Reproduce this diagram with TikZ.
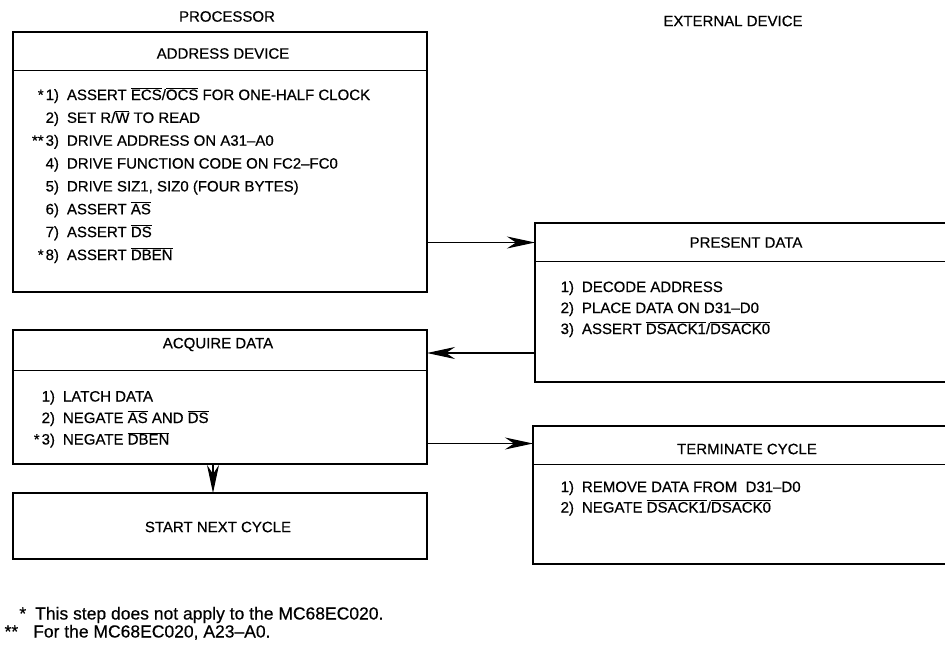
\documentclass[tikz,border=0pt]{standalone}
\usepackage{fontspec}
\setmainfont{Liberation Sans}[FakeBold=0.5]
\usetikzlibrary{arrows.meta}
\newcommand\ovl[1]{$\overline{\hbox{#1}}$}
\newcommand\num[1]{\llap{#1\hspace{8pt}}}
\begin{document}
\begin{tikzpicture}[x=1pt,y=-1pt,
  box/.style={draw, line width=1.6pt, inner sep=0pt, outer sep=0pt, anchor=north west},
  sepline/.style={line width=0.9pt},
  ttl/.style={font=\fontsize{15}{18}\selectfont, inner sep=0pt},
  items/.style={font=\fontsize{15}{#1}\selectfont, inner sep=0pt, outer sep=0pt, anchor=base west},
  conn/.style={line width=1.1pt, -{Stealth[length=28pt,width=12pt,inset=9pt]}},
  head/.style={font=\fontsize{15}{18}\selectfont, inner sep=0pt},
  note/.style={font=\fontsize{17.5}{20}\selectfont, inner sep=0pt, anchor=base west}]
\useasboundingbox (0,0) rectangle (945,645);
\clip (0,0) rectangle (945,645);

% column headings
\node[head] (proc) at (227,16.5) {PROCESSOR};
\node[head] (ext) at (733,21) {EXTERNAL DEVICE};

% ADDRESS DEVICE
\node[box, minimum width=414pt, minimum height=260pt] (addr) at (13,32) {};
\draw[sepline] (addr.west |- 0,70) -- (addr.east |- 0,70);
\node[ttl] (addrt) at (223,53.5) {ADDRESS DEVICE};
\node[items=22.86pt] (addri) at (67,100) {\begin{tabular}[t]{@{}l@{}}
\num{*\kern2pt1)}ASSERT \ovl{ECS}/\ovl{OCS} FOR ONE-HALF CLOCK\\
\num{2)}SET R/\ovl{W} TO READ\\
\num{**\kern2pt3)}DRIVE ADDRESS ON A31--A0\\
\num{4)}DRIVE FUNCTION CODE ON FC2--FC0\\
\num{5)}DRIVE SIZ1, SIZ0 (FOUR BYTES)\\
\num{6)}ASSERT \ovl{AS}\\
\num{7)}ASSERT \ovl{DS}\\
\num{*\kern2pt8)}ASSERT \ovl{DBEN}
\end{tabular}};

% PRESENT DATA
\node[box, minimum width=420pt, minimum height=159pt] (pres) at (535,223) {};
\draw[sepline] (pres.west |- 0,261) -- (pres.east |- 0,261);
\node[ttl] (prest) at (746,242.5) {PRESENT DATA};
\node[items=21pt] (presi) at (582,292) {\begin{tabular}[t]{@{}l@{}}
\num{1)}DECODE ADDRESS\\
\num{2)}PLACE DATA ON D31--D0\\
\num{3)}ASSERT \ovl{DSACK1}/\ovl{DSACK0}
\end{tabular}};

% ACQUIRE DATA
\node[box, minimum width=414pt, minimum height=134pt] (acq) at (13,330) {};
\draw[sepline] (acq.west |- 0,370) -- (acq.east |- 0,370);
\node[ttl] (acqt) at (218,344.5) {ACQUIRE DATA};
\node[items=21.5pt] (acqi) at (63,401.5) {\begin{tabular}[t]{@{}l@{}}
\num{1)}LATCH DATA\\
\num{2)}NEGATE \ovl{AS} AND \ovl{DS}\\
\num{*\kern2pt3)}NEGATE \ovl{DBEN}
\end{tabular}};

% START NEXT CYCLE
\node[box, minimum width=414pt, minimum height=66pt] (start) at (13,493) {};
\node[ttl] (startt) at (218,527) {START NEXT CYCLE};

% TERMINATE CYCLE
\node[box, minimum width=420pt, minimum height=138pt] (term) at (533,426) {};
\draw[sepline] (term.west |- 0,464) -- (term.east |- 0,464);
\node[ttl] (termt) at (747,449) {TERMINATE CYCLE};
\node[items=20.5pt] (termi) at (582,492) {\begin{tabular}[t]{@{}l@{}}
\num{1)}REMOVE DATA FROM\ \ D31--D0\\
\num{2)}NEGATE \ovl{DSACK1}/\ovl{DSACK0}
\end{tabular}};

% connectors
\draw[conn] (addr.east |- prest) -- (pres.west |- prest);
\draw[conn] (pres.west |- 0,353) -- (acq.east |- 0,353);
\draw[conn] (acq.east |- 0,443.5) -- (term.west |- 0,443.5);
\draw[conn] (acq.south -| 213,0) -- (start.north -| 213,0);

% footnotes
\node[note] (fn1) at (35,619.5) {\llap{*\hspace{9pt}}This step does not apply to the MC68EC020.};
\node[note] (fn2) at (33,637.5) {\llap{**\hspace{15pt}}For the MC68EC020, A23--A0.};
\end{tikzpicture}
\end{document}
